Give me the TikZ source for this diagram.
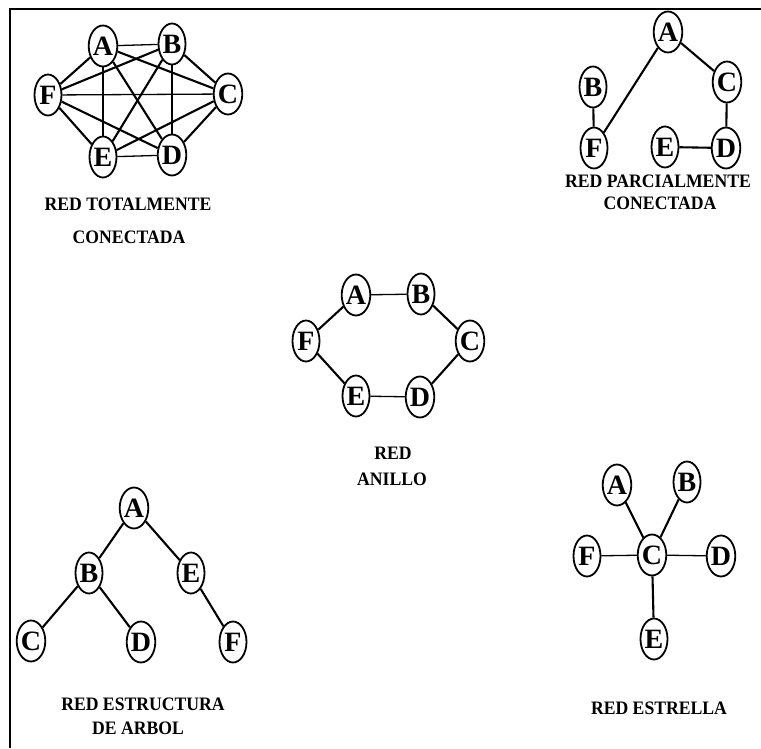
\documentclass[tikz,border=0pt]{standalone}
\usepackage{fontspec}
\setmainfont{Liberation Serif}
\usetikzlibrary{shapes.geometric}
\begin{document}
\begin{tikzpicture}[x=1pt,y=-1pt,
  nd/.style={draw,ellipse,line width=1.8pt,minimum width=27pt,minimum height=41pt,inner sep=0pt,
    font=\fontsize{28}{28}\selectfont\bfseries},
  ed/.style={line width=2.1pt},
  thinedge/.style={line width=1.3pt},
  lbl/.style={font=\fontsize{19}{19}\selectfont\bfseries,align=center,xscale=0.93}]
\useasboundingbox (0,0) rectangle (761,748);
\draw[line width=2.8pt] (10,748) -- (10,9) -- (761,9);

% Red totalmente conectada
\node[nd] (a1) at (103,46) {A};
\node[nd] (b1) at (172,44) {B};
\node[nd] (c1) at (228,94) {C};
\node[nd] (d1) at (172,155) {D};
\node[nd] (e1) at (103,157) {E};
\node[nd] (f1) at (48,95) {F};
\draw[thinedge] (a1) -- (b1);
\draw[thinedge] (e1) -- (d1);
\draw[thinedge] (f1) -- (c1);
\draw[ed] (a1) -- (c1);
\draw[ed] (a1) -- (d1);
\draw[ed] (a1) -- (e1);
\draw[ed] (a1) -- (f1);
\draw[ed] (b1) -- (c1);
\draw[ed] (b1) -- (d1);
\draw[ed] (b1) -- (e1);
\draw[ed] (b1) -- (f1);
\draw[ed] (c1) -- (d1);
\draw[ed] (c1) -- (e1);
\draw[ed] (d1) -- (f1);
\draw[ed] (e1) -- (f1);
\node[lbl] (t1) at (128,204) {RED TOTALMENTE};
\node[lbl] (t1b) at (129,237) {CONECTADA};

% Red parcialmente conectada
\node[nd] (a2) at (668,32) {A};
\node[nd] (b2) at (593,87) {B};
\node[nd] (c2) at (727,82) {C};
\node[nd] (f2) at (594,148) {F};
\node[nd] (e2) at (665,147) {E};
\node[nd] (d2) at (726,148) {D};
\draw[ed] (a2) -- (f2);
\draw[ed] (b2) -- (f2);
\draw[ed] (a2) -- (c2);
\draw[ed] (c2) -- (d2);
\draw[ed] (e2) -- (d2);
\node[lbl] (t2) at (658,181) {RED PARCIALMENTE};
\node[lbl] (t2b) at (660,203) {CONECTADA};

% Red anillo
\node[nd] (a3) at (356,295) {A};
\node[nd] (b3) at (421,294) {B};
\node[nd] (c3) at (470,341) {C};
\node[nd] (d3) at (420,397) {D};
\node[nd] (e3) at (356,396) {E};
\node[nd] (f3) at (306,341) {F};
\draw[thinedge] (a3) -- (b3);
\draw[ed] (b3) -- (c3);
\draw[ed] (c3) -- (d3);
\draw[thinedge] (d3) -- (e3);
\draw[ed] (e3) -- (f3);
\draw[ed] (f3) -- (a3);
\node[lbl] (t3) at (393,453) {RED};
\node[lbl] (t3b) at (392,479) {ANILLO};

% Red estructura de arbol
\node[nd] (a4) at (134,508) {A};
\node[nd] (b4) at (89,573) {B};
\node[nd] (e4) at (191,573) {E};
\node[nd] (c4) at (31,641) {C};
\node[nd] (d4) at (141,642) {D};
\node[nd] (f4) at (233,642) {F};
\draw[ed] (a4) -- (b4);
\draw[ed] (a4) -- (e4);
\draw[ed] (b4) -- (c4);
\draw[ed] (b4) -- (d4);
\draw[ed] (e4) -- (f4);
\node[lbl] (t4) at (143,704) {RED ESTRUCTURA};
\node[lbl] (t4b) at (138,728) {DE ARBOL};

% Red estrella
\node[nd] (a5) at (617,485) {A};
\node[nd] (b5) at (687,482) {B};
\node[nd] (f5) at (587,556) {F};
\node[nd] (c5) at (652,555) {C};
\node[nd] (d5) at (721,556) {D};
\node[nd] (e5) at (654,639) {E};
\draw[ed] (c5) -- (a5);
\draw[ed] (c5) -- (b5);
\draw[thinedge] (c5) -- (f5);
\draw[thinedge] (c5) -- (d5);
\draw[ed] (c5) -- (e5);
\node[lbl] (t5) at (659,708) {RED ESTRELLA};
\end{tikzpicture}
\end{document}
